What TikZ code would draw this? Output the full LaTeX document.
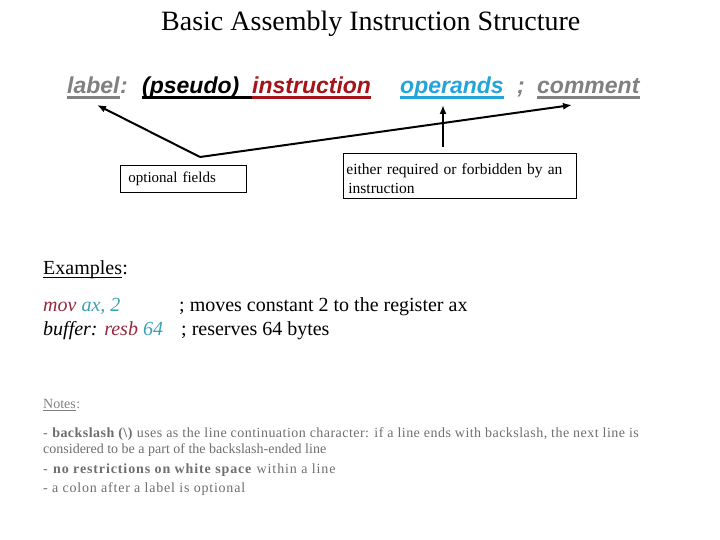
\documentclass[tikz,border=0pt]{standalone}
\usepackage{fontspec}
\setmainfont{Liberation Serif}
\newfontfamily\hdrfont{Liberation Sans}
\usetikzlibrary{arrows.meta}
\definecolor{lblgray}{RGB}{128,128,128}
\definecolor{insred}{RGB}{165,20,25}
\definecolor{opblue}{RGB}{35,165,220}
\definecolor{exred}{RGB}{150,40,60}
\definecolor{exteal}{RGB}{60,160,180}
\definecolor{notegray}{RGB}{110,110,110}
\definecolor{notehd}{RGB}{128,128,128}
\begin{document}
\begin{tikzpicture}[x=1pt,y=-1pt,
  txt/.style={inner sep=0pt, anchor=base west},
  hdr/.style={txt, font=\hdrfont\fontsize{23}{23}\selectfont\bfseries\itshape},
  ul/.style={line width=3pt},
  thinul/.style={line width=1pt},
  arr/.style={line width=2pt, -{Latex[length=9pt,width=7pt]}},
  box/.style={draw, line width=0.8pt, anchor=north west, align=left},
  ex/.style={txt, font=\fontsize{20}{20}\selectfont},
  note/.style={txt, font=\fontsize{14}{14}\selectfont, text=notegray}]
\useasboundingbox (0,0) rectangle (720,540);
% title
\node[txt, font=\fontsize{28}{28}\selectfont] (title) at (161,31) {Basic Assembly Instruction Structure};
% header fields
\node[hdr, text=lblgray] (lab) at (67,94) {label};
\node[hdr, text=lblgray] (colon) at (lab.base east) {:};
\node[hdr, text=black] (pseudo) at (142,94) {(pseudo)};
\node[hdr, text=insred] (instr) at (252,94) {instruction};
\node[hdr, text=opblue] (oper) at (400,94) {operands};
\node[hdr, text=lblgray] (semi) at (517,94) {;};
\node[hdr, text=lblgray] (comm) at (537,94) {comment};
\draw[ul, lblgray] ([yshift=-4pt]lab.base west) -- ([yshift=-4pt]lab.base east);
\draw[ul, black] ([yshift=-4pt]pseudo.base west) -- ([yshift=-4pt]instr.base west);
\draw[ul, insred] ([yshift=-4pt]instr.base west) -- ([yshift=-4pt]instr.base east);
\draw[ul, opblue] ([yshift=-4pt]oper.base west) -- ([yshift=-4pt]oper.base east);
\draw[ul, lblgray] ([yshift=-4pt]comm.base west) -- ([yshift=-4pt]comm.base east);
% boxes
\node[box, inner xsep=8pt, text width=110pt, minimum height=27pt, font=\fontsize{15}{15}\selectfont] (opt) at (120,165) {optional fields};
\node[box, inner xsep=3pt, text width=227pt, minimum height=45pt, font=\fontsize{15.5}{19}\selectfont] (req) at (343,153) {\rule{0pt}{16pt}either required or forbidden by an\\\hspace{2pt}instruction};
% arrows
\coordinate (v) at (200,157);
\coordinate (labtip) at (97,105);
\coordinate (comtip) at (572,105);
\coordinate (optail) at (443,147);
\coordinate (optip) at (443,105);
\draw[arr] (v) -- (labtip);
\draw[arr] (v) -- (comtip);
\draw[arr] (optail) -- (optip);
% examples
\node[ex] (exh) at (43,274) {Examples};
\node[ex] (exc) at (exh.base east) {:};
\draw[thinul] ([yshift=-3pt]exh.base west) -- ([yshift=-3pt]exh.base east);
\node[ex, font=\fontsize{20}{20}\selectfont\itshape] (ex1) at (43,311) {\textcolor{exred}{mov} \textcolor{exteal}{ax, 2}};
\node[ex] (ex1c) at (179,311) {; moves constant 2 to the register ax};
\node[ex, font=\fontsize{20}{20}\selectfont\itshape] (ex2) at (43,335) {buffer: \textcolor{exred}{resb} \textcolor{exteal}{64}};
\node[ex] (ex2c) at (181,335) {; reserves 64 bytes};
% notes
\node[txt, font=\fontsize{14}{14}\selectfont, text=notehd] (nh) at (43,408) {Notes};
\node[txt, font=\fontsize{14}{14}\selectfont, text=notehd] (nhc) at (nh.base east) {:};
\draw[line width=0.6pt, notehd] ([yshift=-2pt]nh.base west) -- ([yshift=-2pt]nh.base east);
\node[note, font=\fontsize{14}{14}\selectfont\addfontfeature{LetterSpace=3.3}] (n1) at (43,437) {- \textbf{backslash (\textbackslash)} uses as the line continuation character: if a line ends with backslash, the next line is};
\node[note] (n2) at (43,453) {considered to be a part of the backslash-ended line};
\node[note, font=\fontsize{14}{14}\selectfont\addfontfeature{LetterSpace=6.3}] (n3) at (43,473) {- \textbf{no restrictions on white space} within a line};
\node[note, font=\fontsize{14}{14}\selectfont\addfontfeature{LetterSpace=5.6}] (n4) at (43,492) {- a colon after a label is optional};
\end{tikzpicture}
\end{document}
